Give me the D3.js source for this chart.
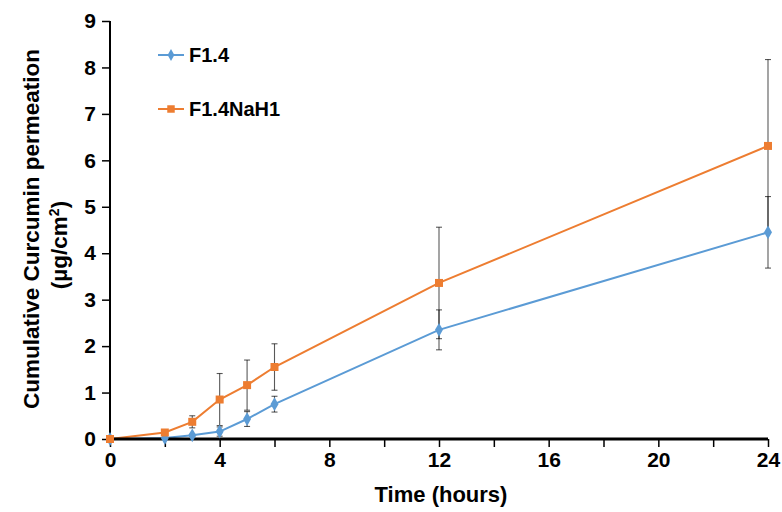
<!DOCTYPE html>
<html><head><meta charset="utf-8">
<script src="https://cdn.jsdelivr.net/npm/d3@7"></script>
<style>body{margin:0;background:#fff}svg{display:block}text{font-family:"Liberation Sans",Arial,sans-serif;font-weight:bold;fill:#000}</style>
</head><body><svg id="c" width="782" height="512"></svg>
<script>
const hours = [0, 2, 3, 4, 5, 6, 12, 24];
const f14 = [0, 0.02, 0.08, 0.16, 0.43, 0.75, 2.35, 4.45];
const f14Err = [0, 0.01, 0.02, 0.1, 0.16, 0.17, 0.43, 0.77];
const f14NaH1 = [0, 0.14, 0.37, 0.85, 1.16, 1.55, 3.36, 6.31];
const f14NaH1Err = [0, 0.02, 0.13, 0.56, 0.54, 0.5, 1.2, 1.86];
const xTicks = [0, 2, 4, 6, 8, 10, 12, 14, 16, 18, 20, 22, 24];
const xLabels = [0, 4, 8, 12, 16, 20, 24];
const yTicks = [0, 1, 2, 3, 4, 5, 6, 7, 8, 9];
const seriesNames = ["F1.4", "F1.4NaH1"];
const colors = ["#5B9BD5", "#ED7D31"];

const svg = d3.select("#c");
const x = d3.scaleLinear().domain([0, 24]).range([110, 768]);
const y = d3.scaleLinear().domain([0, 9]).range([439, 21]);

const series = [
  {name: seriesNames[0], vals: f14, err: f14Err, color: colors[0], sym: d3.symbolDiamond},
  {name: seriesNames[1], vals: f14NaH1, err: f14NaH1Err, color: colors[1], sym: d3.symbolSquare}
];

// error bars
const eg = svg.append("g").attr("stroke", "#000").attr("stroke-opacity", 0.65).attr("stroke-width", 1.1);
series.forEach(s => {
  hours.forEach((h, i) => {
    const e = s.err[i];
    if (e <= 0) return;
    const xp = x(h), y1 = y(s.vals[i] + e), y2 = y(s.vals[i] - e);
    eg.append("line").attr("x1", xp).attr("x2", xp).attr("y1", y1).attr("y2", y2);
    eg.append("line").attr("x1", xp - 3).attr("x2", xp + 3).attr("y1", y1).attr("y2", y1);
    eg.append("line").attr("x1", xp - 3).attr("x2", xp + 3).attr("y1", y2).attr("y2", y2);
  });
});

// lines
const line = d3.line().x((d, i) => x(hours[i])).y(d => y(d));
series.forEach(s => {
  svg.append("path").attr("d", line(s.vals)).attr("fill", "none")
    .attr("stroke", s.color).attr("stroke-width", 2);
});

// axes
const yAxis = d3.axisLeft(y).tickValues(yTicks).tickSize(8).tickPadding(6).tickFormat(d3.format("d"));
const gy = svg.append("g").attr("transform", "translate(110,0)").call(yAxis);
gy.select(".domain").attr("stroke", "#000").attr("stroke-width", 2).attr("d", "M0," + y(9) + "V" + y(0));
gy.selectAll(".tick line").attr("stroke", "#000").attr("stroke-width", 1.5);
gy.selectAll(".tick text").style("font-size", "21px").style("font-family", '"Liberation Sans",Arial,sans-serif').style("font-weight", "bold").attr("fill", "#000");

const xAxis = d3.axisBottom(x).tickValues(xTicks).tickSize(8).tickPadding(5)
  .tickFormat(d => xLabels.includes(d) ? d : "");
const gx = svg.append("g").attr("transform", "translate(0,439)").call(xAxis);
gx.select(".domain").attr("stroke", "#000").attr("stroke-width", 3).attr("d", "M" + x(0) + ",0H" + x(24));
gx.selectAll(".tick line").attr("stroke", "#000").attr("stroke-width", 1.5);
gx.selectAll(".tick text").style("font-size", "21px").style("font-family", '"Liberation Sans",Arial,sans-serif').style("font-weight", "bold").attr("fill", "#000");

// markers
series.forEach(s => {
  const size = s.sym === d3.symbolSquare ? 64 : 55;
  svg.append("g").selectAll("path").data(s.vals).join("path")
    .attr("transform", (d, i) => `translate(${x(hours[i])},${y(d)})`)
    .attr("d", d3.symbol().type(s.sym).size(size))
    .attr("fill", s.color);
});

// axis titles
svg.append("text").attr("x", 441).attr("y", 502).attr("text-anchor", "middle")
  .style("font-size", "22px").text("Time (hours)");
svg.append("text").attr("transform", "translate(39,229) rotate(-90)").attr("text-anchor", "middle")
  .style("font-size", "22.5px").text("Cumulative Curcumin permeation");
const t2 = svg.append("text").attr("transform", "translate(67,245) rotate(-90)").attr("text-anchor", "middle")
  .style("font-size", "22.5px");
t2.append("tspan").text("(µg/cm");
t2.append("tspan").attr("dy", -8).style("font-size", "14px").text("2");
t2.append("tspan").attr("dy", 8).text(")");

// legend
const legY = [55, 109];
series.forEach((s, i) => {
  const g = svg.append("g");
  g.append("line").attr("x1", 158).attr("x2", 184).attr("y1", legY[i]).attr("y2", legY[i])
    .attr("stroke", s.color).attr("stroke-width", 2);
  g.append("path").attr("transform", `translate(171,${legY[i]})`)
    .attr("d", d3.symbol().type(s.sym).size(s.sym === d3.symbolSquare ? 56 : 40)).attr("fill", s.color);
  g.append("text").attr("x", 189).attr("y", legY[i] + 7).style("font-size", "20px").text(s.name);
});
</script></body></html>
